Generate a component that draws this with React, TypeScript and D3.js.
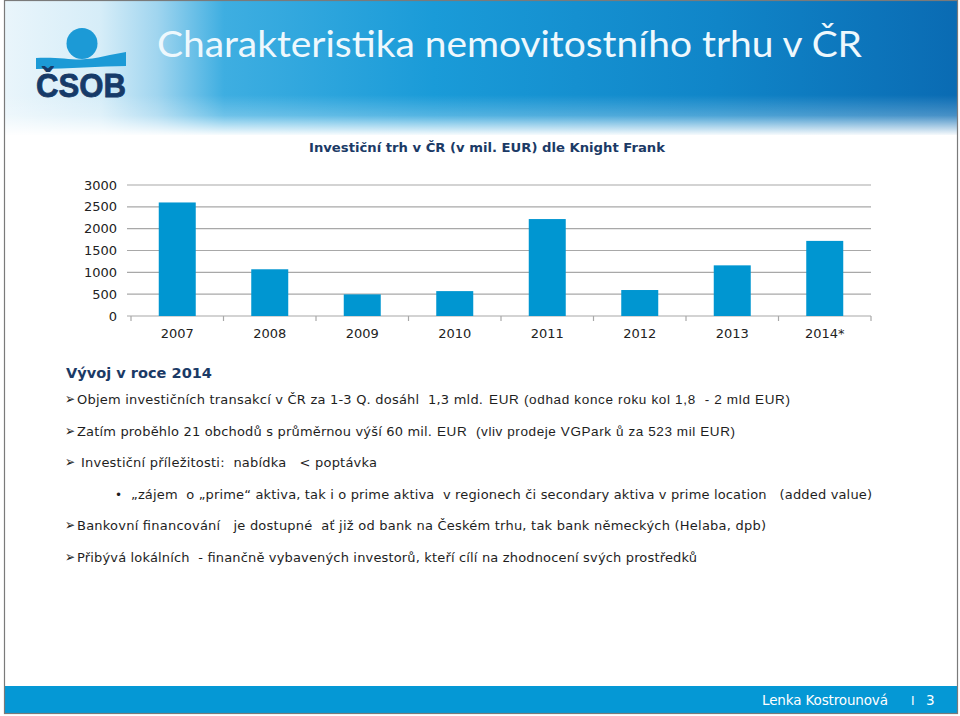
import React from "react";
import * as d3 from "d3";

const categories = ["2007", "2008", "2009", "2010", "2011", "2012", "2013", "2014*"];
const values = [2600, 1070, 495, 570, 2220, 595, 1160, 1720];
const yTicks = [0, 500, 1000, 1500, 2000, 2500, 3000];

const pageTitle = "Charakteristika nemovitostního trhu v ČR";
const chartTitle = "Investiční trh v ČR (v mil. EUR) dle Knight Frank";
const sectionTitle = "Vývoj v roce 2014";
const footerName = "Lenka Kostrounová";
const pageNumber = "3";

const W = 960;
const H = 716;
const plot = { left: 131, right: 871, top: 185, bottom: 316 };

const VERDANA = "'DejaVu Sans', Verdana, sans-serif";
const ARIAL = "'Liberation Sans', Arial, sans-serif";

export default function App() {
  const x = d3.scaleBand<string>().domain(categories).range([plot.left, plot.right]).paddingInner(0.6).paddingOuter(0.3);
  const xOuter = d3.scaleBand<string>().domain(categories).range([plot.left, plot.right]);
  const y = d3.scaleLinear().domain([0, 3000]).range([plot.bottom, plot.top]);
  const text = "#1e1e1e";
  const navy = "#1b3a66";

  const bulletArrow = (yy: number) => (
    <text x={65} y={yy} fontSize={15} fontFamily={VERDANA} fill={text} textLength={10} lengthAdjust="spacingAndGlyphs">➢</text>
  );

  const T = (props: any) => <text xmlSpace="preserve" fontFamily={VERDANA} fill={text} fontSize={13} {...props} />;

  return (
    <svg width={W} height={H} style={{ position: "absolute", left: 0, top: 0, background: "#fff" }}>
      <defs>
        <linearGradient id="hdr" x1="0" x2="1" y1="0" y2="0">
          <stop offset="0" stopColor="#e9f5fb" />
          <stop offset="0.1" stopColor="#d6edf8" />
          <stop offset="0.16" stopColor="#a0d5ef" />
          <stop offset="0.23" stopColor="#3eaee1" />
          <stop offset="0.45" stopColor="#1a9bd8" />
          <stop offset="0.75" stopColor="#1085c8" />
          <stop offset="1" stopColor="#0a6bb3" />
        </linearGradient>
        <linearGradient id="fade" x1="0" x2="0" y1="0" y2="1">
          <stop offset="0" stopColor="#ffffff" stopOpacity="0" />
          <stop offset="0.5" stopColor="#ffffff" stopOpacity="0.25" />
          <stop offset="1" stopColor="#ffffff" stopOpacity="1" />
        </linearGradient>
      </defs>

      {/* header */}
      <rect x={5} y={1} width={952} height={134} fill="url(#hdr)" />
      <rect x={5} y={95} width={952} height={41} fill="url(#fade)" />
      <rect x={5} y={135} width={952} height={20} fill="#fff" />

      {/* logo */}
      <circle cx={82} cy={43.5} r={15.5} fill="#1c9ad6" />
      <path d="M36,58 C55,57 68,59.5 80,59.5 C97,59 112,54 126,52 L126,66 C100,66 70,69 36,69 Z" fill="#1c9ad6" />
      <text x={36} y={97} fontSize={33} fontWeight={900} fontFamily={ARIAL} fill="#163a68" stroke="#163a68" strokeWidth={0.8} textLength={90} lengthAdjust="spacingAndGlyphs">ČSOB</text>

      {/* page title */}
      <text x={157} y={57} fontSize={37} fontFamily="Lato, 'Open Sans', sans-serif" fill="#eef8fd" textLength={705} lengthAdjust="spacingAndGlyphs">{pageTitle}</text>

      {/* chart title */}
      <text x={309} y={152} fontSize={13} fontWeight="bold" fontFamily={VERDANA} fill={navy} textLength={356} lengthAdjust="spacingAndGlyphs">{chartTitle}</text>

      {/* gridlines */}
      {yTicks.map((t) => (
        <line key={t} x1={plot.left - 4} x2={plot.right} y1={y(t)} y2={y(t)} stroke="#a8a8a8" strokeWidth={1.2} />
      ))}
      {/* x tick marks */}
      {categories.map((c) => (
        <line key={c} x1={xOuter(c)!} x2={xOuter(c)!} y1={plot.bottom} y2={plot.bottom + 5} stroke="#a8a8a8" strokeWidth={1.2} />
      ))}
      <line x1={plot.right} x2={plot.right} y1={plot.bottom} y2={plot.bottom + 5} stroke="#a8a8a8" strokeWidth={1.2} />

      {/* bars */}
      {categories.map((c, i) => (
        <rect key={c} x={x(c)!} y={y(values[i])} width={x.bandwidth()} height={y(0) - y(values[i])} fill="#0096d1" />
      ))}

      {/* y labels */}
      {yTicks.map((t) => (
        <text key={t} x={117} y={y(t) + 4.5} textAnchor="end" fontSize={13} fontFamily={VERDANA} fill="#222">{t}</text>
      ))}
      {/* x labels */}
      {categories.map((c) => (
        <text key={c} x={xOuter(c)! + xOuter.bandwidth() / 2} y={338} textAnchor="middle" fontSize={13} fontFamily={VERDANA} fill="#222">{c}</text>
      ))}

      {/* section */}
      <text x={66} y={378} fontSize={14} fontWeight="bold" fontFamily={VERDANA} fill={navy} textLength={146} lengthAdjust="spacingAndGlyphs">{sectionTitle}</text>

      {bulletArrow(404)}
      <T x={77} y={404} textLength={406}>Objem investičních transakcí v ČR za 1-3 Q. dosáhl  1,3 mld.</T>
      <T x={489} y={404} fontSize={13.5} fontFamily={ARIAL} textLength={301}>EUR (odhad konce roku kol 1,8  - 2 mld EUR)</T>

      {bulletArrow(436)}
      <T x={77} y={436} textLength={355}>Zatím proběhlo 21 obchodů s průměrnou výší 60 mil.</T>
      <T x={437} y={436} fontSize={13.5} fontFamily={ARIAL} textLength={298}>EUR  (vliv prodeje VGPark ů za 523 mil EUR)</T>

      {bulletArrow(467)}
      <T x={81} y={467} textLength={296}>Investiční příležitosti:  nabídka   &lt; poptávka</T>

      <T x={115} y={499} fontSize={12}>•</T>
      <T x={131} y={499} textLength={741}>„zájem  o „prime“ aktiva, tak i o prime aktiva  v regionech či secondary aktiva v prime location   (added value)</T>

      {bulletArrow(530)}
      <T x={77} y={530} textLength={689}>Bankovní financování   je dostupné  ať již od bank na Českém trhu, tak bank německých (Helaba, dpb)</T>

      {bulletArrow(562)}
      <T x={77} y={562} textLength={620}>Přibývá lokálních  - finančně vybavených investorů, kteří cílí na zhodnocení svých prostředků</T>

      {/* footer */}
      <rect x={5} y={686} width={952} height={27} fill="#0598d5" />
      <text x={762} y={705} fontSize={13.5} fontFamily={VERDANA} fill="#fff" textLength={126}>{footerName}</text>
      <text x={911} y={705} fontSize={12} fontFamily={VERDANA} fill="#fff">I</text>
      <text x={926} y={705} fontSize={13.5} fontFamily={VERDANA} fill="#fff">{pageNumber}</text>

      {/* frame */}
      <rect x={4.5} y={0.5} width={953} height={713} fill="none" stroke="#7a7a7a" strokeWidth={1.2} />
    </svg>
  );
}
